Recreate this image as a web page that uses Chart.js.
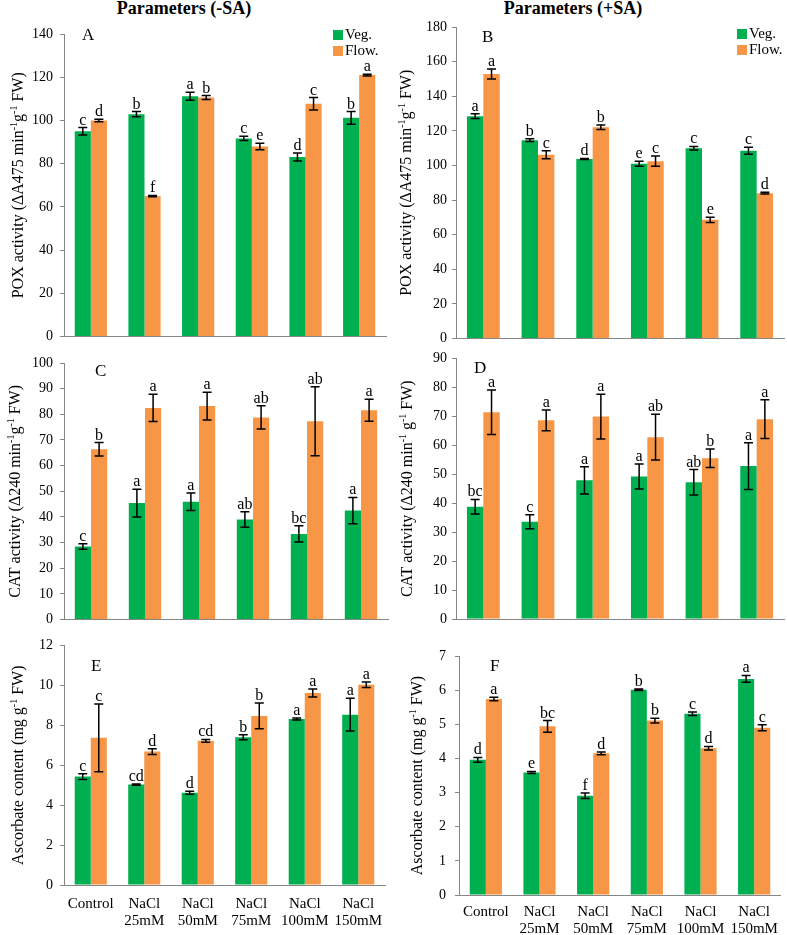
<!DOCTYPE html>
<html>
<head>
<meta charset="utf-8">
<script src="https://cdn.jsdelivr.net/npm/chart.js@4.4.0/dist/chart.umd.min.js"></script>
<style>
  body { margin: 0; background: #fff; width: 787px; height: 935px; position: relative; overflow: hidden;
         font-family: 'Liberation Serif', 'Times New Roman', serif; color: #000; }
  canvas { position: absolute; }
  .head { position: absolute; top: -2px; font-weight: bold; font-size: 18px; transform: translateX(-50%); white-space: nowrap; }
  .tag { position: absolute; font-size: 17px; line-height: 17px; }
  .legend { position: absolute; font-size: 15px; line-height: 16px; }
  .legend div { white-space: nowrap; }
  .legend i { display: inline-block; width: 10px; height: 10px; margin-right: 2px; vertical-align: -1px; }
</style>
</head>
<body>

<div class="head" style="left:184px">Parameters (-SA)</div>
<div class="head" style="left:573px">Parameters (+SA)</div>

<script>
// categories on the x axis
const categories = [['Control'], ['NaCl', '25mM'], ['NaCl', '50mM'], ['NaCl', '75mM'], ['NaCl', '100mM'], ['NaCl', '150mM']];
const seriesNames = ['Veg.', 'Flow.'];

// A - POX activity, no SA
const vegPoxNoSA = [95.0, 102.9, 111.2, 91.7, 83.1, 101.2];
const vegPoxNoSAErr = [1.7, 1.2, 1.8, 1.0, 1.8, 2.9];
const flowPoxNoSA = [100.0, 65.0, 110.6, 87.9, 107.7, 121.0];
const flowPoxNoSAErr = [0.6, 0.3, 0.9, 1.5, 2.9, 0.4];
const vegPoxNoSALetters = ['c', 'b', 'a', 'c', 'd', 'b'];
const flowPoxNoSALetters = ['d', 'f', 'b', 'e', 'c', 'a'];

// B - POX activity, +SA
const vegPoxSA = [128.5, 114.6, 103.8, 101.0, 110.0, 108.5];
const vegPoxSAErr = [1.4, 0.8, 0.3, 1.4, 1.0, 2.0];
const flowPoxSA = [152.9, 106.2, 122.1, 102.5, 68.6, 84.0];
const flowPoxSAErr = [2.9, 2.3, 1.3, 3.0, 1.5, 0.5];
const vegPoxSALetters = ['a', 'b', 'd', 'e', 'c', 'c'];
const flowPoxSALetters = ['a', 'c', 'b', 'c', 'e', 'd'];

// C - CAT activity, no SA
const vegCatNoSA = [28.5, 45.4, 45.9, 39.0, 33.4, 42.5];
const vegCatNoSAErr = [1.1, 5.4, 3.4, 3.0, 3.2, 5.1];
const flowCatNoSA = [66.4, 82.5, 83.2, 78.8, 77.3, 81.6];
const flowCatNoSAErr = [2.6, 5.3, 5.4, 4.5, 13.4, 4.3];
const vegCatNoSALetters = ['c', 'a', 'a', 'ab', 'bc', 'a'];
const flowCatNoSALetters = ['b', 'a', 'a', 'ab', 'ab', 'a'];

// D - CAT activity, +SA
const vegCatSA = [38.8, 33.6, 47.9, 49.2, 47.2, 52.8];
const vegCatSAErr = [2.5, 2.4, 4.7, 4.3, 4.4, 8.1];
const flowCatSA = [71.4, 68.6, 69.9, 62.8, 55.5, 69.0];
const flowCatSAErr = [7.7, 3.6, 7.7, 7.9, 3.2, 6.7];
const vegCatSALetters = ['bc', 'c', 'a', 'a', 'ab', 'a'];
const flowCatSALetters = ['a', 'a', 'a', 'ab', 'b', 'a'];

// E - ascorbate, no SA
const vegAscNoSA = [5.43, 5.03, 4.62, 7.40, 8.32, 8.53];
const vegAscNoSAErr = [0.14, 0.03, 0.08, 0.12, 0.05, 0.82];
const flowAscNoSA = [7.37, 6.68, 7.22, 8.47, 9.62, 10.03];
const flowAscNoSAErr = [1.70, 0.15, 0.07, 0.65, 0.20, 0.14];
const vegAscNoSALetters = ['c', 'cd', 'd', 'b', 'a', 'a'];
const flowAscNoSALetters = ['c', 'd', 'cd', 'b', 'a', 'a'];

// F - ascorbate, +SA
const vegAscSA = [3.96, 3.59, 2.91, 6.01, 5.31, 6.33];
const vegAscSAErr = [0.07, 0.03, 0.08, 0.02, 0.05, 0.10];
const flowAscSA = [5.74, 4.94, 4.15, 5.11, 4.30, 4.90];
const flowAscSAErr = [0.05, 0.17, 0.04, 0.07, 0.05, 0.09];
const vegAscSALetters = ['d', 'e', 'f', 'b', 'c', 'a'];
const flowAscSALetters = ['a', 'bc', 'd', 'b', 'd', 'c'];

// y axis titles, split where the superscripts go
const poxTitle = [['POX activity (\u0394A475 min'], ['-1', 1], ['g'], ['-1', 1], [' FW)']];
const catTitleC = [['CAT activity (\u0394240 min'], ['-1', 1], ['g'], ['-1', 1], [' FW)']];
const catTitleD = [['CAT activity (\u0394240 min'], ['-1', 1], [' g'], ['-1', 1], [' FW)']];
const ascTitle = [['Ascorbate content (mg g'], ['-1', 1], [' FW)']];

const GREEN = '#00B050';
const ORANGE = '#F79646';
const AXIS = '#868686';
const FONT = "'Liberation Serif', 'Times New Roman', serif";

// error bars + significance letters, drawn from the y scale
const errorBarPlugin = {
    id: 'errorBars',
    afterDatasetsDraw(chart) {
        const ctx = chart.ctx;
        const yScale = chart.scales.y;
        ctx.save();
        chart.data.datasets.forEach((ds, i) => {
            const meta = chart.getDatasetMeta(i);
            meta.data.forEach((bar, j) => {
                const v = ds.data[j];
                const e = ds.errors[j];
                const yTop = yScale.getPixelForValue(v + e);
                const yBot = yScale.getPixelForValue(v - e);
                ctx.strokeStyle = '#000';
                ctx.lineWidth = 1.5;
                ctx.beginPath();
                ctx.moveTo(bar.x, yTop); ctx.lineTo(bar.x, yBot);
                ctx.moveTo(bar.x - 4.5, yTop); ctx.lineTo(bar.x + 4.5, yTop);
                ctx.moveTo(bar.x - 4.5, yBot); ctx.lineTo(bar.x + 4.5, yBot);
                ctx.stroke();
                ctx.fillStyle = '#000';
                ctx.font = '16px ' + FONT;
                ctx.textAlign = 'center';
                ctx.textBaseline = 'alphabetic';
                ctx.fillText(ds.letters[j], bar.x, yTop - 3);
            });
        });
        ctx.restore();
    }
};

// rotated y title with real superscripts
const yTitlePlugin = {
    id: 'yTitle',
    afterDraw(chart, args, opts) {
        const ctx = chart.ctx;
        const area = chart.chartArea;
        const big = '16px ' + FONT, small = '10px ' + FONT;
        ctx.save();
        let total = 0;
        opts.parts.forEach(([t, sup]) => { ctx.font = sup ? small : big; total += ctx.measureText(t).width; });
        ctx.translate(opts.x, (area.top + area.bottom) / 2);
        ctx.rotate(-Math.PI / 2);
        ctx.fillStyle = '#000';
        ctx.textBaseline = 'middle';
        ctx.textAlign = 'left';
        let pos = -total / 2;
        opts.parts.forEach(([t, sup]) => {
            ctx.font = sup ? small : big;
            ctx.fillText(t, pos, sup ? -5 : 0);
            pos += ctx.measureText(t).width;
        });
        ctx.restore();
    }
};

function makePanel(p) {
    const cv = document.createElement('canvas');
    cv.width = p.w; cv.height = p.h;
    cv.style.left = p.left + 'px'; cv.style.top = p.top + 'px';
    cv.style.width = p.w + 'px'; cv.style.height = p.h + 'px';
    document.body.appendChild(cv);

    const tag = document.createElement('div');
    tag.className = 'tag';
    tag.textContent = p.tag;
    tag.style.left = p.tagX + 'px'; tag.style.top = p.tagY + 'px';
    document.body.appendChild(tag);

    new Chart(cv.getContext('2d'), {
        type: 'bar',
        data: {
            labels: categories,
            datasets: [
                { label: seriesNames[0], data: p.veg, errors: p.vegErr, letters: p.vegLetters, backgroundColor: GREEN },
                { label: seriesNames[1], data: p.flow, errors: p.flowErr, letters: p.flowLetters, backgroundColor: ORANGE }
            ]
        },
        options: {
            responsive: false,
            animation: false,
            events: [],
            categoryPercentage: 0.6,
            barPercentage: 1.0,
            layout: { padding: { left: 0, bottom: 0, top: p.area.t - p.top, right: p.left + p.w - p.area.r } },
            plugins: {
                legend: { display: false },
                tooltip: { enabled: false },
                yTitle: { parts: p.yTitle, x: p.titleX - p.left }
            },
            scales: {
                x: {
                    grid: { display: false, drawTicks: false },
                    border: { display: true, color: AXIS, width: 1 },
                    ticks: { display: p.showX, color: '#000', padding: p.xPad || 0, maxRotation: 0, autoSkip: false,
                             font: { family: FONT, size: 15, lineHeight: 1.13 } },
                    afterFit: s => { s.height = p.top + p.h - p.area.b; }
                },
                y: {
                    min: 0, max: p.max,
                    ticks: { stepSize: p.step, color: '#000', padding: p.tickPad, font: { family: FONT, size: 14 } },
                    grid: { display: true, drawOnChartArea: false, drawTicks: true, tickLength: 4, color: AXIS },
                    border: { display: true, color: AXIS, width: 1 },
                    afterFit: s => { s.width = p.area.l - p.left; }
                }
            }
        },
        plugins: [errorBarPlugin, yTitlePlugin]
    });
}

makePanel({ tag: 'A', tagX: 82, tagY: 26, left: 0, top: 0, w: 395, h: 352,
    area: { l: 64, r: 386, t: 34, b: 338 }, max: 140, step: 20, tickPad: 7, titleX: 19, showX: false, yTitle: poxTitle,
    veg: vegPoxNoSA, vegErr: vegPoxNoSAErr, vegLetters: vegPoxNoSALetters,
    flow: flowPoxNoSA, flowErr: flowPoxNoSAErr, flowLetters: flowPoxNoSALetters });

makePanel({ tag: 'B', tagX: 482, tagY: 28, left: 392, top: 0, w: 395, h: 352,
    area: { l: 456, r: 784, t: 27, b: 339 }, max: 180, step: 20, tickPad: 5, titleX: 407, showX: false, yTitle: poxTitle,
    veg: vegPoxSA, vegErr: vegPoxSAErr, vegLetters: vegPoxSALetters,
    flow: flowPoxSA, flowErr: flowPoxSAErr, flowLetters: flowPoxSALetters });

makePanel({ tag: 'C', tagX: 95, tagY: 362, left: 0, top: 345, w: 395, h: 290,
    area: { l: 64, r: 388, t: 363, b: 622 }, max: 100, step: 10, tickPad: 7, titleX: 16, showX: false, yTitle: catTitleC,
    veg: vegCatNoSA, vegErr: vegCatNoSAErr, vegLetters: vegCatNoSALetters,
    flow: flowCatNoSA, flowErr: flowCatNoSAErr, flowLetters: flowCatNoSALetters });

makePanel({ tag: 'D', tagX: 474, tagY: 359, left: 392, top: 345, w: 395, h: 290,
    area: { l: 456, r: 784, t: 358, b: 619 }, max: 90, step: 10, tickPad: 5, titleX: 408, showX: false, yTitle: catTitleD,
    veg: vegCatSA, vegErr: vegCatSAErr, vegLetters: vegCatSALetters,
    flow: flowCatSA, flowErr: flowCatSAErr, flowLetters: flowCatSALetters });

makePanel({ tag: 'E', tagX: 91, tagY: 657, left: 0, top: 630, w: 395, h: 305,
    area: { l: 64, r: 385, t: 644, b: 885 }, max: 12, step: 2, tickPad: 7, titleX: 19, showX: true, xPad: 11, yTitle: ascTitle,
    veg: vegAscNoSA, vegErr: vegAscNoSAErr, vegLetters: vegAscNoSALetters,
    flow: flowAscNoSA, flowErr: flowAscNoSAErr, flowLetters: flowAscNoSALetters });

makePanel({ tag: 'F', tagX: 490, tagY: 657, left: 392, top: 630, w: 395, h: 305,
    area: { l: 459, r: 786, t: 656, b: 895 }, max: 7, step: 1, tickPad: 9, titleX: 418, showX: true, xPad: 9, yTitle: ascTitle,
    veg: vegAscSA, vegErr: vegAscSAErr, vegLetters: vegAscSALetters,
    flow: flowAscSA, flowErr: flowAscSAErr, flowLetters: flowAscSALetters });

// legends (panels A and B)
[[333, 26], [737, 25]].forEach(([x, y]) => {
    const lg = document.createElement('div');
    lg.className = 'legend';
    lg.style.left = x + 'px'; lg.style.top = y + 'px';
    lg.innerHTML = '<div><i style="background:' + GREEN + '"></i>' + seriesNames[0] + '</div>' +
                   '<div><i style="background:' + ORANGE + '"></i>' + seriesNames[1] + '</div>';
    document.body.appendChild(lg);
});
</script>
</body>
</html>
